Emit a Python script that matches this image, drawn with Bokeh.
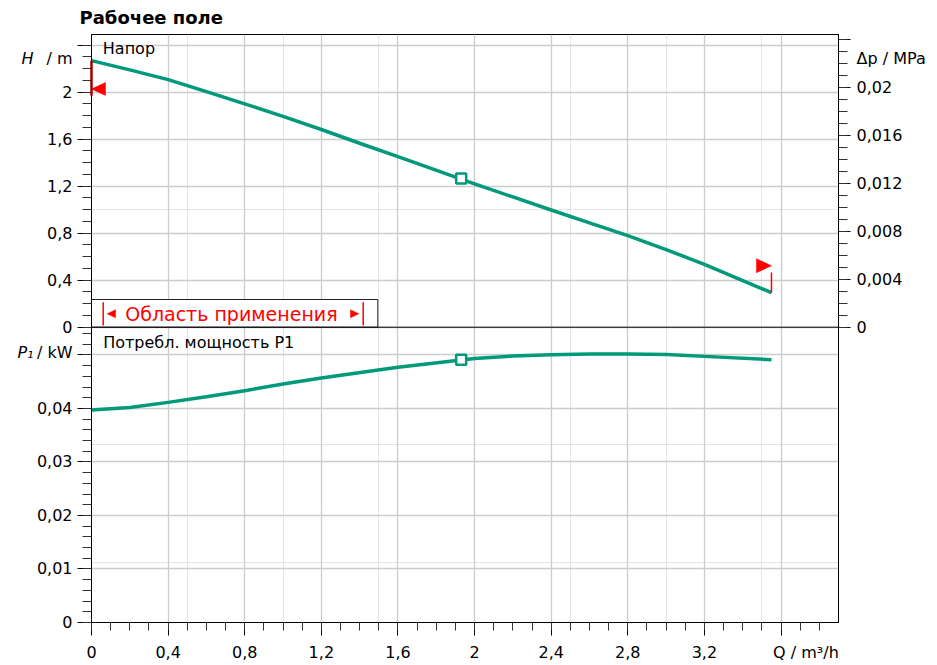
from bokeh.plotting import figure
from bokeh.models import (Range1d, LinearAxis, FixedTicker, SingleIntervalTicker,
                          CustomJSTickFormatter, Span, Label, Grid)
from bokeh.embed import file_html
from bokeh.resources import INLINE

# ---------------- data ----------------
Q_H = [0.0, 0.2, 0.4, 0.6, 0.8, 1.0, 1.2, 1.4, 1.6, 2.0, 2.2, 2.4, 2.6, 2.8, 3.0, 3.2, 3.4, 3.55]
H = [2.268, 2.189, 2.106, 2.004, 1.90, 1.794, 1.682, 1.565, 1.451, 1.219, 1.108, 0.997,
     0.888, 0.779, 0.66, 0.535, 0.396, 0.294]                               # m
Q_P = [0.0, 0.2, 0.4, 0.6, 0.8, 1.0, 1.2, 1.6, 2.0, 2.2, 2.4, 2.6, 2.8, 3.0, 3.2, 3.55]
P1 = [0.0397, 0.0402, 0.04114, 0.0422, 0.04333, 0.04458, 0.0457, 0.04772, 0.04936,
      0.0498, 0.05006, 0.0502, 0.05019, 0.0501, 0.04974, 0.04912]             # kW
DUTY_Q, DUTY_H, DUTY_P = 1.93, 1.266, 0.04912

H_SET = 2.027            # red set-point marker on H axis
H_SET_BAR = [1.97, 2.268]
Q_END = 3.55
H_END_MARK = 0.523
H_END_BAR = [0.294, 0.466]

X_RANGE = (0.0, 3.9)
H_RANGE = (-2.512, 2.49)
P_RANGE = (0.0, 0.1099)
MPA_PER_M = 0.00980665

X_MAJOR_STEP = 0.4
X_LABEL_TICKS = [0, 0.4, 0.8, 1.2, 1.6, 2.0, 2.4, 2.8, 3.2]
H_MAJOR = [0, 0.4, 0.8, 1.2, 1.6, 2.0, 2.4]
H_MINOR = [round(0.1 * i, 1) for i in range(25)]
P_MAJOR = [0, 0.01, 0.02, 0.03, 0.04, 0.05]
P_MINOR = [round(0.002 * i, 3) for i in range(28)]
DP_MAJOR = [0, 0.004, 0.008, 0.012, 0.016, 0.02, 0.024]
DP_MINOR = [round(0.001 * i, 3) for i in range(25)]

# where the quantity names sit on their axes
H_NAME_AT = 2.29
P_NAME_AT = 0.0505
DP_NAME_AT = 0.0224
Q_NAME_AT = 3.73

TITLE = "Рабочее поле"
TXT_HEAD = "Напор"
TXT_POWER = "Потребл. мощность P1"
TXT_RANGE = "Область применения"

TEAL = "#00997a"
RED = "#ff0000"
FONT = "DejaVu Sans"

# ---------------- layout ----------------
W, HT = 936, 664
ML, MT = 91, 34
FW, FH = 747, 588
MR = W - ML - FW
MB = HT - MT - FH
XS = FW / (X_RANGE[1] - X_RANGE[0])
HS = FH / (H_RANGE[1] - H_RANGE[0])


def qx(px):   # canvas x pixel -> Q units
    return (px - ML) / XS


def hy(py):   # canvas y pixel -> H units
    return H_RANGE[1] - (py - MT) / HS


def qd(px):
    return px / XS


def hd(px):
    return px / HS


def p_to_h(v):
    return H_RANGE[0] + v / P_RANGE[1] * (H_RANGE[1] - H_RANGE[0])


def fmt(v, nd):
    s = f"{v:.{nd}f}".rstrip("0").rstrip(".")
    return s.replace(".", ",")


p = figure(width=W, height=HT, x_range=Range1d(*X_RANGE), y_range=Range1d(*H_RANGE),
           output_backend="svg", toolbar_location=None,
           x_axis_location=None, y_axis_location=None,
           min_border_left=ML, min_border_right=MR, min_border_top=MT, min_border_bottom=MB)
p.extra_y_ranges = {"P": Range1d(*P_RANGE),
                    "dp": Range1d(H_RANGE[0] * MPA_PER_M, H_RANGE[1] * MPA_PER_M)}
p.outline_line_color = "black"
p.outline_line_width = 1
p.background_fill_color = "white"
p.border_fill_color = "white"

p.title.text = TITLE
p.title.align = "left"
p.title.vertical_align = "top"
p.title.offset = -12
p.title.text_font = FONT
p.title.text_font_size = "18px"
p.title.text_font_style = "bold"
p.title.text_color = "black"
p.title.standoff = 9

BLANK = CustomJSTickFormatter(code='return "";')


def lookup_fmt(vals, labels):
    return CustomJSTickFormatter(args=dict(tv=list(vals), lab=list(labels)), code="""
for (let j = 0; j < tv.length; j++) {
  if (Math.abs(tv[j] - tick) < 1e-7) return lab[j];
}
return "";
""")


def tick_axis(ticker, tick_out, minor_out, **kw):
    ax = LinearAxis(ticker=ticker, formatter=BLANK, **kw)
    ax.axis_line_color = "black"
    ax.major_tick_line_color = "black"
    ax.minor_tick_line_color = "#333333"
    ax.major_tick_in = 0
    ax.minor_tick_in = 0
    ax.major_tick_out = tick_out
    ax.minor_tick_out = minor_out
    ax.major_label_standoff = 0
    ax.major_label_text_font_size = "1px"
    return ax


def label_axis(vals, labels, standoff, style="normal", **kw):
    ax = LinearAxis(ticker=FixedTicker(ticks=list(vals), minor_ticks=[]),
                    formatter=lookup_fmt(vals, labels), **kw)
    ax.axis_line_color = None
    ax.major_tick_line_color = None
    ax.minor_tick_line_color = None
    ax.major_tick_in = 0
    ax.major_tick_out = 0
    ax.minor_tick_in = 0
    ax.minor_tick_out = 0
    ax.major_label_standoff = standoff
    ax.major_label_text_font = FONT
    ax.major_label_text_font_size = "16px"
    ax.major_label_text_font_style = style
    ax.major_label_text_color = "black"
    return ax


# ---- bottom (Q) ----
xticker = SingleIntervalTicker(interval=X_MAJOR_STEP, num_minor_ticks=4)
p.add_layout(tick_axis(xticker, 13, 8), "below")
p.add_layout(label_axis(X_LABEL_TICKS + [Q_NAME_AT],
                        [fmt(v, 1) for v in X_LABEL_TICKS] + ["Q / m³/h"], 7), "below")

# ---- left (H upper panel, P1 lower panel) ----
lticker = FixedTicker(ticks=H_MAJOR + [p_to_h(v) for v in P_MAJOR],
                      minor_ticks=H_MINOR + [p_to_h(v) for v in P_MINOR])
p.add_layout(tick_axis(lticker, 14, 9), "left")
l_vals = H_MAJOR[:-1] + [H_NAME_AT] + [p_to_h(v) for v in P_MAJOR[:-1]] + [p_to_h(P_NAME_AT)]
l_labs = [fmt(v, 1) for v in H_MAJOR[:-1]] + ["/ m"] + [fmt(v, 2) for v in P_MAJOR[:-1]] + ["/ kW"]
p.add_layout(label_axis(l_vals, l_labs, 5), "left")
p.add_layout(label_axis([H_NAME_AT, p_to_h(P_NAME_AT)], ["H", "P₁"], 0, style="italic"), "left")

# ---- right (Δp) ----
dticker = FixedTicker(ticks=DP_MAJOR, minor_ticks=DP_MINOR)
p.add_layout(tick_axis(dticker, 12, 9, y_range_name="dp"), "right")
p.add_layout(label_axis(DP_MAJOR[:-1] + [DP_NAME_AT],
                        [fmt(v, 3) for v in DP_MAJOR[:-1]] + ["Δp / MPa"], 6,
                        y_range_name="dp"), "right")

# grids
p.add_layout(Grid(dimension=0, ticker=xticker, grid_line_color="#cccccc", grid_line_width=1.3))
p.add_layout(Grid(dimension=1, ticker=lticker, grid_line_color="#cccccc", grid_line_width=1.3))

# panel separator
p.add_layout(Span(location=0, dimension="width", line_color="black", line_width=1))

# application-range box
p.quad(left=[0], right=[qx(377.3)], bottom=[0], top=[hy(299)],
       fill_color="white", line_color="#222222", line_width=1)
p.segment(x0=[qx(102.7), qx(362.7)], y0=[hy(325), hy(325)],
          x1=[qx(102.7), qx(362.7)], y1=[hy(301.7), hy(301.7)],
          line_color=RED, line_width=1.5)
yc = hy(313.3)
p.patches(xs=[[qx(106.7), qx(115), qx(115)], [qx(358.3), qx(350), qx(350)]],
          ys=[[yc, yc + hd(4), yc - hd(4)], [yc, yc + hd(4), yc - hd(4)]],
          fill_color=RED, line_color=RED, line_width=0.5)
p.add_layout(Label(x=qx(230.9), y=hy(313.3), text=TXT_RANGE, text_font=FONT,
                   text_font_size="19px", text_color=RED, text_align="center",
                   text_baseline="alphabetic"))

# curves
p.line(Q_H, H, line_color=TEAL, line_width=3.5, line_join="round")
p.line(Q_P, P1, line_color=TEAL, line_width=3.5, line_join="round", y_range_name="P")
p.scatter([DUTY_Q], [DUTY_H], marker="square", size=10, fill_color="white",
          line_color=TEAL, line_width=2.5)
p.scatter([DUTY_Q], [DUTY_P], marker="square", size=10, fill_color="white",
          line_color=TEAL, line_width=2.5, y_range_name="P")

# red markers
p.segment(x0=[0], y0=[H_SET_BAR[0]], x1=[0], y1=[H_SET_BAR[1]],
          line_color="#a00000", line_width=2.5, level="overlay")
p.patch(x=[0, qd(14), qd(14)], y=[H_SET, H_SET + hd(6.5), H_SET - hd(6.5)],
        fill_color=RED, line_color=RED, line_width=0.5)
p.segment(x0=[Q_END], y0=[H_END_BAR[0]], x1=[Q_END], y1=[H_END_BAR[1]],
          line_color=RED, line_width=1.5)
p.patch(x=[Q_END, Q_END - qd(15), Q_END - qd(15)],
        y=[H_END_MARK, H_END_MARK + hd(7), H_END_MARK - hd(7)],
        fill_color=RED, line_color=RED, line_width=0.5)

# in-frame texts
p.add_layout(Label(x=qx(102.3), y=hy(48.3), text=TXT_HEAD, text_font=FONT,
                   text_font_size="16px", text_color="black", text_baseline="alphabetic"))
p.add_layout(Label(x=qx(102.7), y=hy(342), text=TXT_POWER, text_font=FONT,
                   text_font_size="16px", text_color="black", text_baseline="alphabetic"))

open("out.html", "w").write(file_html(p, INLINE, title="Рабочее поле"))
